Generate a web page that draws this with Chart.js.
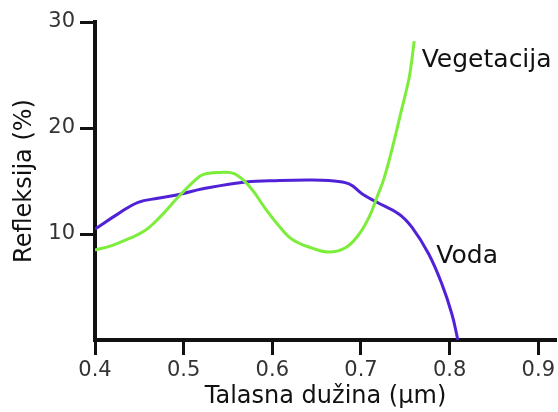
<!DOCTYPE html>
<html>
<head>
<meta charset="utf-8">
<script src="https://cdn.jsdelivr.net/npm/chart.js@4/dist/chart.umd.min.js"></script>
<style>
  html, body { margin: 0; padding: 0; background: #fff; }
  #wrap { width: 558px; height: 412px; }
</style>
</head>
<body>
<div id="wrap"><canvas id="chart"></canvas></div>
<script>
/* reflectance curves */
var vegX = [0.40, 0.4188, 0.4374, 0.456, 0.471, 0.4936, 0.5124, 0.5217, 0.54, 0.557, 0.574, 0.593, 0.608, 0.623, 0.645, 0.664, 0.683, 0.698, 0.709, 0.718, 0.7258, 0.735, 0.746, 0.754, 0.757, 0.76];
var vegY = [8.49, 8.9, 9.53, 10.3, 11.4, 13.46, 15.04, 15.6, 15.8, 15.7, 14.5, 12.3, 10.7, 9.46, 8.67, 8.3, 8.73, 10.0, 11.57, 13.46, 15.2, 18.0, 21.8, 24.6, 26.2, 28.2];

var vodaX = [0.40, 0.426, 0.4487, 0.471, 0.4974, 0.5217, 0.57, 0.608, 0.64, 0.664, 0.6865, 0.7015, 0.718, 0.7427, 0.7576, 0.7764, 0.7913, 0.8026, 0.8093];
var vodaY = [10.47, 11.9, 12.99, 13.37, 13.78, 14.26, 14.9, 15.05, 15.1, 15.04, 14.73, 13.78, 12.99, 11.89, 10.62, 8.11, 5.27, 2.43, 0];

var xTicks = [0.4, 0.5, 0.6, 0.7, 0.8, 0.9];
var yTicks = [10, 20, 30];

var seriesNames = ['Vegetacija', 'Voda'];
var seriesColors = ['#7ced3a', '#5021d6'];
// where each curve's name is written (data coordinates)
var labelPos = [[0.7685, 25.8], [0.785, 7.3]];

function toPoints(xs, ys) {
    return xs.map(function (x, i) { return {x: x, y: ys[i]}; });
}

var curveLabels = {
    id: 'curveLabels',
    afterDatasetsDraw: function (chart) {
        var ctx = chart.ctx;
        var sx = chart.scales.x, sy = chart.scales.y;
        ctx.save();
        ctx.font = '25px "DejaVu Sans"';
        ctx.fillStyle = '#111';
        ctx.textAlign = 'left';
        ctx.textBaseline = 'alphabetic';
        seriesNames.forEach(function (name, i) {
            ctx.fillText(name, sx.getPixelForValue(labelPos[i][0]), sy.getPixelForValue(labelPos[i][1]));
        });
        ctx.restore();
    }
};

var axisGrid = {
    drawOnChartArea: false,
    drawTicks: true,
    tickLength: 15,
    tickWidth: 3,
    tickColor: '#111'
};

var config = {
    type: 'line',
    data: {
        datasets: [{
            label: seriesNames[0],
            data: toPoints(vegX, vegY),
            borderColor: seriesColors[0],
            borderWidth: 3,
            pointRadius: 0,
            tension: 0.4,
            fill: false
        }, {
            label: seriesNames[1],
            data: toPoints(vodaX, vodaY),
            borderColor: seriesColors[1],
            borderWidth: 3,
            pointRadius: 0,
            tension: 0.4,
            fill: false
        }]
    },
    options: {
        responsive: true,
        maintainAspectRatio: false,
        animation: false,
        layout: { padding: { top: 22, right: 0, left: 0, bottom: 0 } },
        plugins: {
            legend: { display: false },
            tooltip: { enabled: false }
        },
        scales: {
            x: {
                type: 'linear',
                min: 0.4,
                max: 0.92,
                afterBuildTicks: function (scale) {
                    scale.ticks = xTicks.map(function (v) { return {value: v}; });
                },
                afterFit: function (scale) { scale.height = 72; },
                grid: axisGrid,
                border: { display: true, color: '#111', width: 4 },
                ticks: {
                    color: '#333',
                    font: { family: 'DejaVu Sans', size: 21 },
                    padding: 3,
                    maxRotation: 0,
                    callback: function (v) { return v.toFixed(1); }
                },
                title: {
                    display: true,
                    text: 'Talasna dužina (μm)',
                    color: '#111',
                    font: { family: 'DejaVu Sans', size: 24 },
                    padding: { top: 0, bottom: 1 }
                }
            },
            y: {
                min: 0,
                max: 30,
                afterBuildTicks: function (scale) {
                    scale.ticks = yTicks.map(function (v) { return {value: v}; });
                },
                afterFit: function (scale) { scale.width = 95; },
                grid: axisGrid,
                border: { display: true, color: '#111', width: 4 },
                ticks: {
                    color: '#333',
                    font: { family: 'DejaVu Sans', size: 21 },
                    padding: 5
                },
                title: {
                    display: true,
                    text: 'Refleksija (%)',
                    color: '#111',
                    font: { family: 'DejaVu Sans', size: 24 },
                    padding: { top: 10, bottom: 0 }
                }
            }
        }
    },
    plugins: [curveLabels]
};

var ctx = document.getElementById('chart').getContext('2d');
var reflChart = new Chart(ctx, config);
</script>
</body>
</html>
